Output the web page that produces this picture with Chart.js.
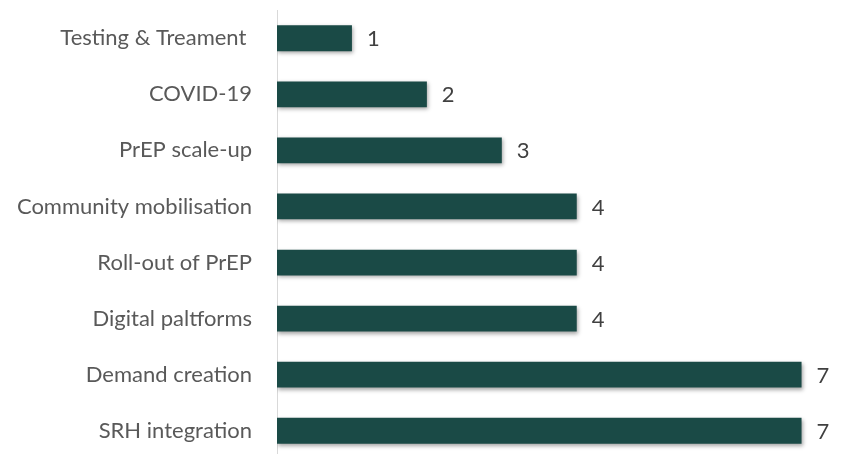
<!DOCTYPE html>
<html>
<head>
<meta charset="utf-8">
<script src="https://cdn.jsdelivr.net/npm/chart.js@4"></script>
<style>
  html, body { margin: 0; padding: 0; background: #fff; overflow: hidden; }
  #wrap { position: relative; width: 863px; height: 525px; margin-top: -28px; }
</style>
</head>
<body>
<div id="wrap"><canvas id="barChart"></canvas></div>
<script>
// Dados do gráfico
const categories = ['Testing & Treament ', 'COVID-19', 'PrEP scale-up', 'Community mobilisation',
                    'Roll-out of PrEP', 'Digital paltforms', 'Demand creation', 'SRH integration'];
const counts = [1, 2, 3, 4, 4, 4, 7, 7];

const fontFamily = 'Lato, "Liberation Sans", sans-serif';

// Plugin simples para escrever o valor ao lado de cada barra
const valueLabels = {
    id: 'valueLabels',
    afterDatasetsDraw(chart) {
        const ctx = chart.ctx;
        const meta = chart.getDatasetMeta(0);
        ctx.save();
        ctx.fillStyle = '#404040';
        ctx.font = '22px ' + fontFamily;
        ctx.textBaseline = 'middle';
        meta.data.forEach((bar, i) => {
            ctx.fillText(counts[i], bar.x + 15, bar.y + 1);
        });
        ctx.restore();
    }
};

// Sombra leve por baixo das barras
const barShadow = {
    id: 'barShadow',
    beforeDatasetDraw(chart) {
        const ctx = chart.ctx;
        ctx.save();
        ctx.shadowColor = 'rgba(0,0,0,0.35)';
        ctx.shadowBlur = 4;
        ctx.shadowOffsetX = 1;
        ctx.shadowOffsetY = 2;
    },
    afterDatasetDraw(chart) {
        chart.ctx.restore();
    }
};

const ctx = document.getElementById('barChart').getContext('2d');
new Chart(ctx, {
    type: 'bar',
    data: {
        labels: categories,
        datasets: [{
            data: counts,
            backgroundColor: '#1a4a46',
            borderWidth: 0,
            categoryPercentage: 1,
            barPercentage: 0.46
        }]
    },
    options: {
        indexAxis: 'y',
        responsive: true,
        maintainAspectRatio: false,
        animation: false,
        layout: { padding: { top: 8, bottom: 1, left: 0, right: 0 } },
        plugins: {
            legend: { display: false },
            tooltip: { enabled: false }
        },
        scales: {
            x: {
                display: false,
                min: 0,
                max: 7.82
            },
            y: {
                grid: { display: false, drawTicks: false },
                border: { display: true, color: '#d9d9d9', width: 1 },
                ticks: {
                    color: '#595959',
                    padding: 25,
                    font: { family: fontFamily, size: 22 }
                },
                afterFit(scale) { scale.width = 277; }
            }
        }
    },
    plugins: [valueLabels, barShadow]
});
</script>
</body>
</html>
